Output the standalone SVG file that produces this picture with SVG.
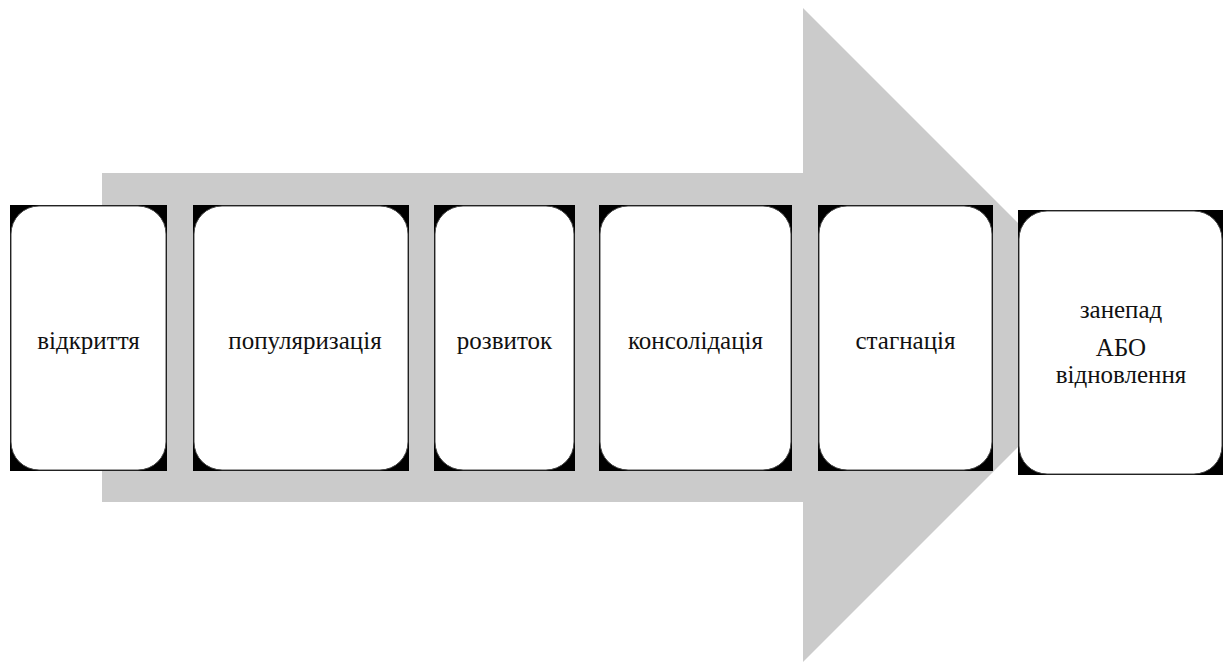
<svg xmlns="http://www.w3.org/2000/svg" width="1229" height="664" viewBox="0 0 1229 664">
<style>
.bg{fill:#000}
.card{fill:#fff;stroke:#444;stroke-width:1}
.t{font-family:'Liberation Serif','Times New Roman','DejaVu Serif',serif;font-size:25px;fill:#111;text-anchor:middle}
</style>
<rect width="1229" height="664" fill="#fff"/>
<g id="arrow">
<polygon points="102,173 803,173 803,8 1130,335 803,662 803,502 102,502" fill="#cbcbcb"/>
</g>
<g id="n1"><rect class="bg" x="10" y="205" width="157" height="266"/><rect class="card" x="11" y="206" width="155" height="264" rx="28"/><text class="t" x="88.5" y="349">відкриття</text></g>
<g id="n2"><rect class="bg" x="193" y="205" width="216" height="266"/><rect class="card" x="194" y="206" width="214" height="264" rx="28"/><text class="t" x="305" y="349">популяризація</text></g>
<g id="n3"><rect class="bg" x="434" y="205" width="141" height="266"/><rect class="card" x="435" y="206" width="139" height="264" rx="28"/><text class="t" x="504.5" y="349">розвиток</text></g>
<g id="n4"><rect class="bg" x="599" y="205" width="193" height="266"/><rect class="card" x="600" y="206" width="191" height="264" rx="28"/><text class="t" x="695.5" y="349">консолідація</text></g>
<g id="n5"><rect class="bg" x="818" y="205" width="175" height="266"/><rect class="card" x="819" y="206" width="173" height="264" rx="28"/><text class="t" x="905.5" y="349">стагнація</text></g>
<g id="n6"><rect class="bg" x="1018" y="210" width="205" height="265"/><rect class="card" x="1019" y="211" width="203" height="263" rx="28"/><text class="t" x="1121" y="318">занепад</text><text class="t" x="1121" y="356">АБО</text><text class="t" x="1121" y="383">відновлення</text></g>
<g id="connectors"></g>
</svg>
